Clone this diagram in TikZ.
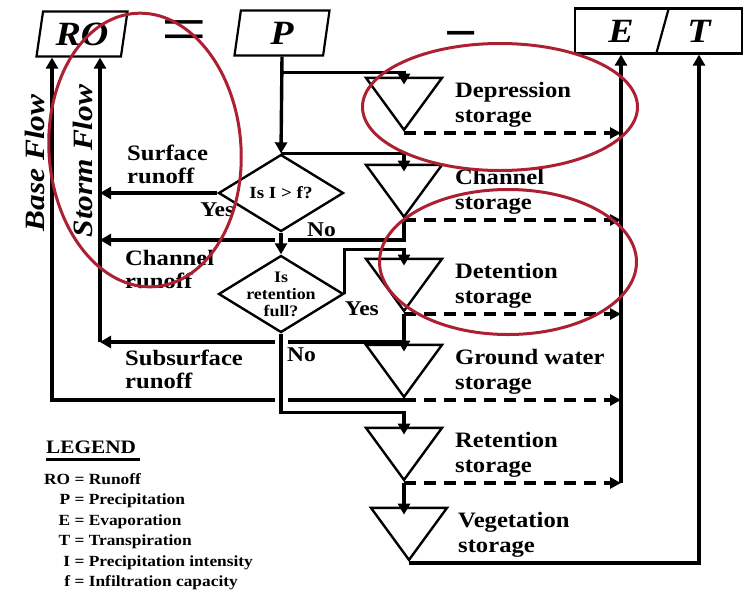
\documentclass[tikz,border=0pt]{standalone}
\usepackage{fontspec}
\setmainfont{Liberation Serif}[FakeStretch=1.12]
\usepackage{tikz}
\usetikzlibrary{positioning}
\usetikzlibrary {arrows.meta}
\usetikzlibrary{shapes.geometric}
\definecolor{ringred}{RGB}{172,32,50}
\tikzset{flowbox/.style={trapezium,trapezium left angle=74,trapezium right angle=106,
trapezium stretches body,draw=black,line width=2.2pt,inner sep=0pt,
minimum height=45pt,font=\fontsize{34}{34}\selectfont\bfseries\itshape}}
\tikzset{boxtext/.style={inner sep=0pt,font=\fontsize{34}{34}\selectfont\bfseries\itshape}}
\tikzset{storage/.style={isosceles triangle,isosceles triangle stretches,
shape border rotate=270,draw=black,line width=2.4pt,inner sep=0pt,
minimum width=76pt,minimum height=52pt}}
\tikzset{decision/.style={diamond,draw=black,line width=2.4pt,inner sep=0pt,
minimum width=125pt,minimum height=77pt}}
\tikzset{asktext/.style={align=center,inner sep=0pt,
font=\fontsize{16}{17}\selectfont\bfseries}}
\tikzset{storelbl/.style={anchor=west,align=left,inner sep=0pt,
font=\fontsize{22}{25}\selectfont\bfseries}}
\tikzset{runlbl/.style={anchor=west,align=left,inner sep=0pt,
font=\fontsize{22}{23}\selectfont\bfseries}}
\tikzset{answer/.style={inner sep=0pt,font=\fontsize{21}{21}\selectfont\bfseries}}
\tikzset{flowlbl/.style={inner sep=0pt,font=\fontsize{28}{28}\selectfont\bfseries\itshape}}
\tikzset{bigop/.style={inner sep=0pt,anchor=base}}
\tikzset{flow/.style={line width=3.4pt,-{Triangle[length=11pt,width=12pt]}}}
\tikzset{into/.style={shorten >=-8pt}}
\tikzset{evap/.style={line width=3.2pt,dash pattern=on 12pt off 8pt,
-{Triangle[length=11pt,width=11pt]}}}
\tikzset{bridge/.style={preaction={draw=white,line width=13pt,-,
shorten <=5pt,shorten >=12pt}}}
\tikzset{ring/.style={ellipse,draw=ringred,line width=3pt,inner sep=0pt}}

\begin{document}
\begin{tikzpicture}[x=1pt,y=-1pt]
    \useasboundingbox (0,0) rectangle (752,592);

        % water balance along the top
        \node[flowbox, minimum width=91pt] (boxRO) at (82,34) {RO};
        \node[bigop, font=\fontsize{72}{72}\selectfont] (opEq) at (184,53) {=};
        \node[flowbox, minimum width=95pt] (boxP) at (282,33) {P};
        \node[bigop, font=\fontsize{52}{52}\selectfont\bfseries] (opMinus) at (461,50) {−};
        \node[flowbox, minimum width=167pt] (boxET) at (658.5,31) {};
        \node[boxtext] (boxE) at (621,31) {E};
        \node[boxtext] (boxT) at (699,31) {T};
        \draw[line width=2.2pt] ([xshift=10.5pt]boxET.north) -- ([xshift=-2.5pt]boxET.south);

        \node[decision, font=\fontsize{17}{17}\selectfont\bfseries] (askA) at (281,193) {Is I > f?};
        \node[decision, label={[asktext]center:Is\\retention\\full?}] (askB) at (281,294) {};

        \node[storage, anchor=apex] (storeDep) at (404,133) {};
        \node[storage, anchor=apex] (storeChan) at (404,220) {};
        \node[storage, anchor=apex] (storeDet) at (404,314) {};
        \node[storage, anchor=apex] (storeGw) at (404,400) {};
        \node[storage, anchor=apex] (storeRet) at (404,483) {};
        \node[storage, anchor=apex] (storeVeg) at (409,563) {};

        \coordinate (stormChan) at (100,240);
        \coordinate (stormSub) at (100,342);
        \coordinate (baseFoot) at (52,400);

        % runoff towards RO
        \draw[flow] (askA.west) -- (askA.west -| stormSub);
        \draw[flow] (storeChan.apex) |- (stormChan);
        \draw[flow] (storeDet.apex) |- (stormSub);
        \draw[flow] (stormSub) -- (stormSub |- boxRO.south);
        \draw[flow] (storeGw.apex) -- (storeGw.apex -| baseFoot) -- (baseFoot |- boxRO.south);

        % precipitation into the storages
        \draw[flow] (boxP.south) -- (askA.north);
        \draw[flow,into] ([yshift=-16pt]boxP.south) -| (storeDep.lower side);
        \draw[flow,into] (askA.north) -| (storeChan.lower side);
        \draw[flow,bridge] (askA.south) -- (askB.north);
        \draw[flow,into] (askB.east) |- ([yshift=8pt]storeDet.lower side) -- (storeDet.lower side);
        \draw[flow,into] (storeDet.apex) -- (storeGw.lower side);
        \draw[flow,into,bridge] (askB.south) |- ([yshift=14pt]storeRet.lower side) -- (storeRet.lower side);
        \draw[flow,into] (storeRet.apex) -- (storeRet.apex |- storeVeg.lower side);

        % evaporation and transpiration
        \foreach \s in {Dep,Chan,Det,Gw,Ret}
            \draw[evap] (store\s.apex) -- (store\s.apex -| boxE);
        \draw[flow] (storeRet.apex -| boxE) -- (boxE |- boxET.south);
        \draw[flow] (storeVeg.apex) -| (boxT |- boxET.south);

        \node[storelbl] (lblDep) at ([xshift=51pt,yshift=28pt]storeDep.apex) {Depression\\storage};
        \node[storelbl] (lblChan) at ([xshift=51pt,yshift=28pt]storeChan.apex) {Channel\\storage};
        \node[storelbl] (lblDet) at ([xshift=51pt,yshift=28pt]storeDet.apex) {Detention\\storage};
        \node[storelbl] (lblGw) at ([xshift=51pt,yshift=28pt]storeGw.apex) {Ground water\\storage};
        \node[storelbl] (lblRet) at ([xshift=51pt,yshift=28pt]storeRet.apex) {Retention\\storage};
        \node[storelbl] (lblVeg) at ([xshift=49pt,yshift=28pt]storeVeg.apex) {Vegetation\\storage};

        \node[runlbl] (runSurf) at (127,164) {Surface\\runoff};
        \node[runlbl] (runChan) at (125,269) {Channel\\runoff};
        \node[runlbl] (runSub) at (125,369) {Subsurface\\runoff};

        \node[answer, below=10pt of askA.west] (yesA) {Yes};
        \node[answer, right=26pt of askA.south, yshift=3pt] (noA) {No};
        \node[answer, below right=8pt and 0pt of askB.east] (yesB) {Yes};
        \node[answer, below right=14pt and 6pt of askB.south] (noB) {No};

        \node[flowlbl, rotate=90, anchor=base] (lblBase) at (44,163) {Base Flow};
        \node[flowlbl, rotate=90, anchor=base] (lblStorm) at (92,161) {Storm Flow};

        % legend
        \node[anchor=west, inner sep=0pt, font=\fontsize{19}{19}\selectfont\bfseries] (legendHead) at (46,447) {LEGEND};
        \draw[line width=2.6pt] ([yshift=-6pt]legendHead.south west) -- ([yshift=-6pt,xshift=4pt]legendHead.south east);
        \node[anchor=north west, inner sep=0pt, font=\fontsize{15.5}{20.4}\selectfont\bfseries] (legendKey) at (44,470)
            {\begin{tabular}{@{}r@{\ =\ }l@{}}
            RO & Runoff\\
            P & Precipitation\\
            E & Evaporation\\
            T & Transpiration\\
            I & Precipitation intensity\\
            f & Infiltration capacity
            \end{tabular}};

        % red marks
        \node[ring, rotate=4, minimum width=192pt, minimum height=274pt] (ringFlow) at (145,150) {};
        \node[ring, minimum width=275pt, minimum height=127pt] (ringDep) at (500,107) {};
        \node[ring, minimum width=257pt, minimum height=145pt] (ringDet) at (508,262) {};

    \end{tikzpicture}
\end{document}
